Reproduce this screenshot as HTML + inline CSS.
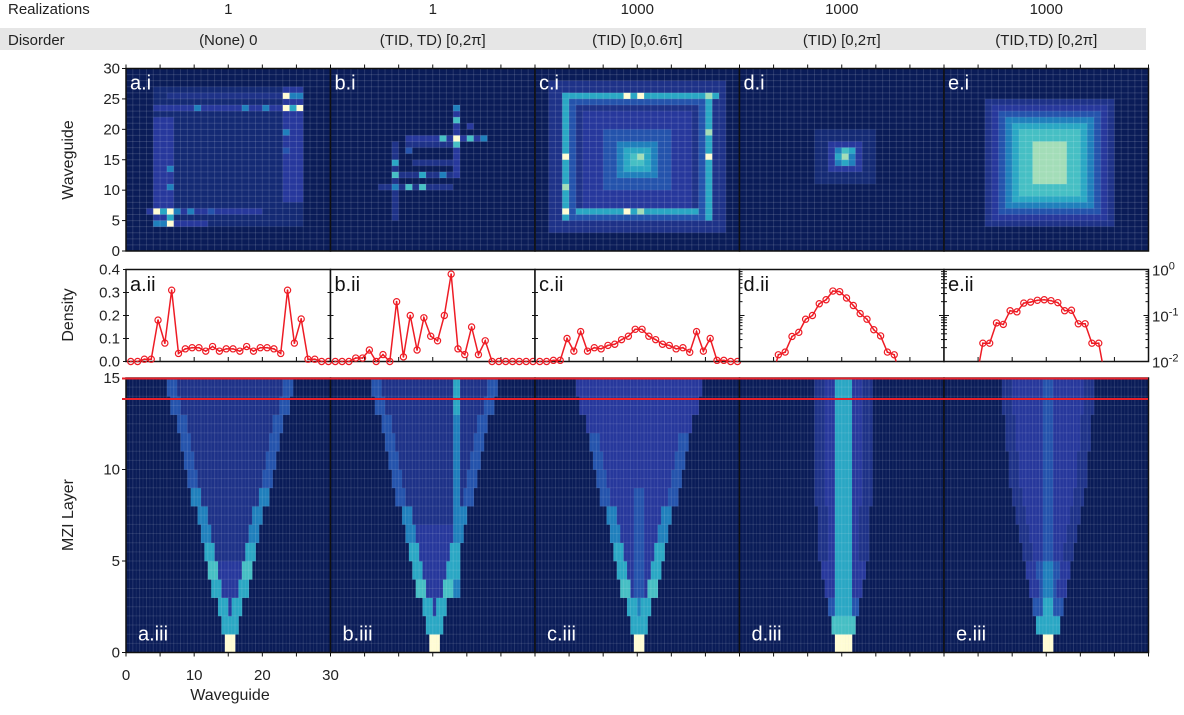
<!DOCTYPE html>
<html><head><meta charset="utf-8">
<style>
html,body{margin:0;padding:0;background:#fff;}
body{width:1184px;height:710px;overflow:hidden;font-family:"Liberation Sans",sans-serif;}
svg text{font-family:"Liberation Sans",sans-serif;fill:#222;}
</style></head>
<body>
<svg id="fig" width="1184" height="710" viewBox="0 0 1184 710" xmlns="http://www.w3.org/2000/svg">
  <rect x="0" y="28" width="1146" height="22" fill="#e6e6e6"/>
  <text x="8" y="14" font-size="15">Realizations</text>
  <text x="8" y="45" font-size="15">Disorder</text>
  <text transform="translate(73,160) rotate(-90)" text-anchor="middle" font-size="16">Waveguide</text>
  <text transform="translate(73,315) rotate(-90)" text-anchor="middle" font-size="16">Density</text>
  <text transform="translate(73,515) rotate(-90)" text-anchor="middle" font-size="16">MZI Layer</text>
  <text x="230" y="700" text-anchor="middle" font-size="16">Waveguide</text>
  <g id="layer"></g>
</svg>
<script>
// ---------- data ----------
const realizations = ["1","1","1000","1000","1000"];
const disorders = ["(None) 0","(TID, TD) [0,2\u03c0]","(TID) [0,0.6\u03c0]","(TID) [0,2\u03c0]","(TID,TD) [0,2\u03c0]"];
const panelLetters = ["a","b","c","d","e"];
// top heatmaps: rectangles [x0,y0,x1,y1,level] painted in order
const topA = [[4,4,26,27,1],[3,6,20,7,3],[4,4,12,5,3],[4,4,7,22,3],[4,23,25,24,3],[6,25,25,26,2],[23,8,26,27,3],
  [4,6,5,7,9],[6,6,7,7,9],[6,4,7,5,9],[5,6,6,7,6],[4,4,6,5,5],[6,5,7,6,6],[7,6,8,7,5],[9,6,10,7,5],[12,6,13,7,4],
  [23,25,24,26,9],[23,23,24,24,9],[25,23,26,24,9],[24,23,25,24,6],[24,25,26,26,5],[23,19,24,20,5],[23,16,24,17,4],[10,23,11,24,5],[17,23,18,24,5],[20,23,21,24,5],[6,13,7,14,5],[6,10,7,11,5]];
const topB = [[7,10,18,11,2],[9,12,18,13,2],[9,5,10,18,2],[11,17,19,18,2],[11,18,23,19,3],[18,12,19,24,3],[12,14,18,15,2],
  [18,18,19,19,9],[16,18,17,19,7],[20,18,21,19,7],[22,18,23,19,5],[18,17,19,18,7],[18,21,19,22,7],[18,23,19,24,5],
  [9,14,10,15,6],[9,12,10,13,7],[9,10,10,11,5],[11,10,12,11,7],[13,10,14,11,7],[13,12,14,13,6],[16,12,17,13,5],[11,16,12,17,4],[20,20,21,21,3]];
const topC = [[2,3,28,28,2],[3,4,27,27,2],[7,7,23,23,3],[10,10,20,20,4],[12,12,18,18,5],[13,13,17,17,6],[14,14,16,16,7],
  [4,6,26,7,6],[4,5,26,6,4],[4,5,5,26,6],[5,5,6,26,4],[4,25,27,26,6],[5,24,26,25,4],[25,5,26,26,6],[24,5,25,25,4],
  [13,25,14,26,9],[15,25,16,26,9],[4,15,5,16,9],[25,15,26,16,9],[13,6,14,7,9],[15,6,16,7,8],[4,6,5,7,9],[25,25,26,26,8],[4,10,5,11,8],[25,19,26,20,8],[15,15,16,16,8]];
const topD = [[11,11,20,20,1],[13,13,18,18,3],[14,14,17,17,5],[14,15,15,16,6],[15,14,16,15,6],[16,16,17,17,6],[15,16,16,17,7],[15,15,16,16,8]];
const topE = [[6,4,25,25,2],[7,5,24,24,3],[8,6,23,23,4],[9,7,22,22,5],[10,8,21,21,6],[11,9,20,20,7],[13,11,18,18,8]];
const topData = [topA,topB,topC,topD,topE];
// density profiles
const densA = [0,0,0.01,0.01,0.18,0.08,0.31,0.035,0.055,0.06,0.06,0.045,0.065,0.045,0.055,0.055,0.045,0.065,0.045,0.06,0.06,0.055,0.035,0.31,0.08,0.185,0.01,0.01,0,0];
const densB = [0,0,0,0.015,0.015,0.05,0,0.03,0,0.26,0.02,0.2,0.05,0.19,0.11,0.09,0.2,0.38,0.055,0.03,0.15,0.03,0.09,0,0,0,0,0,0,0];
const densC = [0,0,0.005,0.005,0.1,0.045,0.13,0.045,0.06,0.055,0.07,0.075,0.095,0.11,0.14,0.14,0.11,0.095,0.075,0.07,0.055,0.06,0.04,0.13,0.045,0.1,0.005,0.005,0,0];
const densD = [0,0,0,0,0.004,0.014,0.016,0.035,0.043,0.083,0.1,0.18,0.22,0.34,0.33,0.24,0.165,0.11,0.083,0.049,0.036,0.016,0.014,0.004,0,0,0,0,0,0];
const densE = [0,0,0,0,0.004,0.025,0.025,0.069,0.064,0.127,0.12,0.186,0.195,0.214,0.22,0.21,0.19,0.127,0.13,0.066,0.066,0.025,0.025,0.004,0,0,0,0,0,0];
const densData = [densA,densB,densC,densD,densE];
const densLog = [false,false,false,true,true];
// bottom evolution per layer
const armOffA = [0,0.6,1.2,1.8,2.4,3,3.6,4.2,4.8,5.4,6,6.6,7.2,7.8,8.4];
const armOffD = [0,1,1.5,2,2.5,3,3,3.2,3.4,3.5,3.5,3.5,3.5,3.5,3.5];
const armOffE = [0,1,1.5,2,2.5,3,3.5,4,4.5,5,5,5.5,5.5,6,6];
const armLvlA = [9,6,6,6,7,6,5,5,5,4,4,4,4,4,4];
const armLvlB = [9,6,6,7,6,6,5,5,4,4,4,4,4,4,4];
const armLvlC = [9,6,6,7,6,6,5,5,4,4,4,4,3,3,3];
const armLvlD = [9,7,4,3,3,2,2,2,2,2,2,2,2,2,2];
const armLvlE = [9,6,4,3,3,2,2,2,2,2,2,2,2,2,2];
const inLvlA = [9,6,3,3,3,2,2,2,2,2,2,2,2,2,2];
const inLvlB = [9,6,3,3,3,3,3,2,2,2,2,2,2,2,2];
const inLvlC = [9,6,4,3,3,3,3,3,3,3,3,3,3,3,3];
const inLvlD = [9,7,5,4,3,3,3,3,3,3,3,3,3,3,3];
const inLvlE = [9,6,5,4,4,3,3,3,3,3,3,3,3,3,3];
const coreLvlA = [0,0,0,0,0,0,0,0,0,0,0,0,0,0,0];
const coreLvlB = [0,0,0,5,6,5,5,5,5,5,5,5,5,6,6];
const coreLvlC = [9,6,5,4,4,4,4,4,4,3,3,3,3,3,3];
const coreLvlD = [9,7,6,6,6,6,6,6,6,6,6,6,6,6,6];
const coreLvlE = [9,6,6,5,5,4,4,4,4,4,4,4,4,4,4];
const coreX = [15.25,18.3,15.25,15.25,15.25];
const botArm = [armOffA,armOffA,armOffA,armOffD,armOffE];
const botArmLvl = [armLvlA,armLvlB,armLvlC,armLvlD,armLvlE];
const botInLvl = [inLvlA,inLvlB,inLvlC,inLvlD,inLvlE];
const botCore = [coreLvlA,coreLvlB,coreLvlC,coreLvlD,coreLvlE];
const topTicks = [0,5,10,15,20,25,30];
const densTicks = ["0.0","0.1","0.2","0.3","0.4"];
const layerTicks = [0,5,10,15];
const xTickLabels = [0,10,20,30];
const logLabels = [["10","0"],["10","-1"],["10","-2"]];

// ---------- geometry ----------
const colors = ["#0a1c58","#142a74","#1e3288","#27389c","#2453ac","#1f7fbc","#2aa7c4","#46bfc4","#a3ddb8","#fffcd4"];
const P0 = 126, PW = 204.5, U = PW/30;
const xP = (p,w)=> P0 + p*PW + w*U;
const yT = v => 251 - v*(182.5/30);
const yL = v => 361.5 - v/0.4*92;
const yG = v => 269.5 + (-Math.log10(v))*46;
const yB = l => 652.5 - l*(274.5/15);
const NS="http://www.w3.org/2000/svg";
const root=document.getElementById('layer');
function mk(tag,attrs,parent){const e=document.createElementNS(NS,tag);for(const k in attrs)e.setAttribute(k,attrs[k]);(parent||root).appendChild(e);return e;}

for(let p=0;p<5;p++){
  const g=mk('g',{});
  
  
  const cx = xP(p,15);
  let t=mk('text',{x:cx,y:14,'text-anchor':'middle','font-size':15},g);t.textContent=realizations[p];
  
  
  t=mk('text',{x:cx,y:45,'text-anchor':'middle','font-size':15},g);t.textContent=disorders[p];
  
  

  // top heatmap
  const th=mk('g',{},g);
  
  
  mk('rect',{x:xP(p,0),y:yT(30),width:PW,height:yT(0)-yT(30),fill:colors[0]},th);
  topData[p].forEach(r=>{
    const c=mk('rect',{x:xP(p,r[0]),y:yT(r[3]),width:(r[2]-r[0])*U,height:yT(r[1])-yT(r[3]),fill:colors[r[4]]},th);
    
    
  });
  for(let i=1;i<30;i++){
    mk('line',{x1:xP(p,i),x2:xP(p,i),y1:yT(30),y2:yT(0),stroke:'rgba(255,255,255,0.13)','stroke-width':1},th);
    mk('line',{x1:xP(p,0),x2:xP(p,30),y1:yT(i),y2:yT(i),stroke:'rgba(255,255,255,0.13)','stroke-width':1},th);
  }
  mk('rect',{x:xP(p,0),y:yT(30),width:PW,height:yT(0)-yT(30),fill:'none',stroke:'#111','stroke-width':1.5},th);
  topTicks.forEach(v=>mk('line',{x1:xP(p,v),x2:xP(p,v),y1:yT(30),y2:yT(30)-4,stroke:'#111','stroke-width':1},th));
  t=mk('text',{x:xP(p,0)+4,y:yT(30)+21,'font-size':20,style:'fill:#fff'},th);t.textContent=panelLetters[p]+'.i';
  
  

  // density
  const dg=mk('g',{},g);
  
  
  mk('rect',{x:xP(p,0),y:269.5,width:PW,height:92,fill:'#fff',stroke:'#111','stroke-width':1.5},dg);
  const cid='clip'+p;
  const cp=mk('clipPath',{id:cid},dg);mk('rect',{x:xP(p,0),y:269.5,width:PW,height:92},cp);
  if(densLog[p]){
    for(let d=0;d<2;d++)for(let m=1;m<=10;m++){const yy=yG(m*Math.pow(10,-2+d));const L=(m==1||m==10)?5:3;
      mk('line',{x1:xP(p,0),x2:xP(p,0)+L,y1:yy,y2:yy,stroke:'#111'},dg);mk('line',{x1:xP(p,30),x2:xP(p,30)-L,y1:yy,y2:yy,stroke:'#111'},dg);}
  } else {
    densTicks.forEach((s,i)=>{const yy=yL(i*0.1);mk('line',{x1:xP(p,0)-3,x2:xP(p,0)+3,y1:yy,y2:yy,stroke:'#111'},dg);});
  }
  for(let v=5;v<30;v+=5)mk('line',{x1:xP(p,v),x2:xP(p,v),y1:361.5,y2:357,stroke:'#111'},dg);
  const ys=densData[p].map(v=>densLog[p]?(v>0?yG(v):yG(0.001)):yL(v));
  const pts=densData[p].map((v,j)=>[xP(p,j+0.7),ys[j]]);
  const ln=mk('polyline',{points:pts.map(q=>q.join(',')).join(' '),fill:'none',stroke:'#ee1c25','stroke-width':1.5,'clip-path':'url(#'+cid+')'},dg);
  
  
  densData[p].forEach((v,j)=>{
    if(densLog[p] && v<0.01) return;
    const c=mk('circle',{cx:pts[j][0],cy:pts[j][1],r:3.1,fill:'none',stroke:'#ee1c25','stroke-width':1.2},dg);
    
    
    mk('circle',{cx:pts[j][0],cy:pts[j][1],r:0.9,fill:'#ee1c25'},dg);
  });
  t=mk('text',{x:xP(p,0)+4,y:291,'font-size':20,style:'fill:#111'},dg);t.textContent=panelLetters[p]+'.ii';
  
  

  // bottom evolution
  const bg=mk('g',{},g);
  
  
  mk('rect',{x:xP(p,0),y:yB(15),width:PW,height:yB(0)-yB(15),fill:colors[0]},bg);
  for(let L=0;L<15;L++){
    const off=botArm[p][L];
    for(let k=0;k<60;k++){
      const w=(k+0.5)/2, d=Math.abs(w-15.25);
      let lv=0;
      if(d<off-0.75) lv=botInLvl[p][L];
      if(Math.abs(d-off)<=0.75) lv=botArmLvl[p][L];
      if(botCore[p][L]>0 && Math.abs(w-coreX[p])<=(p==1?0.5:(p==3?1.1:0.9))) lv=Math.max(lv,botCore[p][L]);
      if(lv>0){
        const c=mk('rect',{x:xP(p,k/2),y:yB(L+1),width:U/2+0.3,height:yB(L)-yB(L+1)+0.3,fill:colors[lv]},bg);
        
        
      }
    }
  }
  for(let i=1;i<60;i++)mk('line',{x1:xP(p,i/2),x2:xP(p,i/2),y1:yB(15),y2:yB(0),stroke:'rgba(255,255,255,'+(i%2?0.07:0.12)+')','stroke-width':1},bg);
  for(let i=1;i<30;i++)mk('line',{x1:xP(p,0),x2:xP(p,30),y1:yB(i/2),y2:yB(i/2),stroke:'rgba(255,255,255,0.1)','stroke-width':1},bg);
  mk('rect',{x:xP(p,0),y:yB(15),width:PW,height:yB(0)-yB(15),fill:'none',stroke:'#111','stroke-width':1.5},bg);
  for(let v=0;v<=30;v+=5)mk('line',{x1:xP(p,v),x2:xP(p,v),y1:yB(0),y2:yB(0)+4,stroke:'#111'},bg);
  t=mk('text',{x:xP(p,0)+12,y:yB(0)-12,'font-size':20,style:'fill:#fff'},bg);t.textContent=panelLetters[p]+'.iii';
  
  
}

// axis labels
const ax=mk('g',{});


topTicks.forEach(v=>{mk('line',{x1:P0,x2:P0-4,y1:yT(v),y2:yT(v),stroke:'#111'},ax);
  const t=mk('text',{x:P0-6,y:yT(v)+5,'text-anchor':'end','font-size':15},ax);t.textContent=v;
  
  });
densTicks.forEach((s,i)=>{const t=mk('text',{x:P0-6,y:yL(i*0.1)+5,'text-anchor':'end','font-size':15},ax);t.textContent=s;
  
  });
layerTicks.forEach(v=>{mk('line',{x1:P0,x2:P0-4,y1:yB(v),y2:yB(v),stroke:'#111'},ax);
  const t=mk('text',{x:P0-6,y:yB(v)+5,'text-anchor':'end','font-size':15},ax);t.textContent=v;
  
  });
xTickLabels.forEach(v=>{const t=mk('text',{x:xP(0,v),y:680,'text-anchor':'middle','font-size':15},ax);t.textContent=v;
  
  });
logLabels.forEach((s,i)=>{const t=mk('text',{x:1152,y:yG(Math.pow(10,-i))+6,'font-size':15},ax);t.textContent=s[0];
  
  
  const sp=mk('tspan',{dy:-6,'font-size':11},t);sp.textContent=s[1];});

// red layer marker lines
const r1=mk('line',{x1:122,x2:1148,y1:378.5,y2:378.5,stroke:'#e8202a','stroke-width':2});


const r2=mk('line',{x1:122,x2:1148,y1:399,y2:399,stroke:'#e8202a','stroke-width':2});


</script>
</body></html>
